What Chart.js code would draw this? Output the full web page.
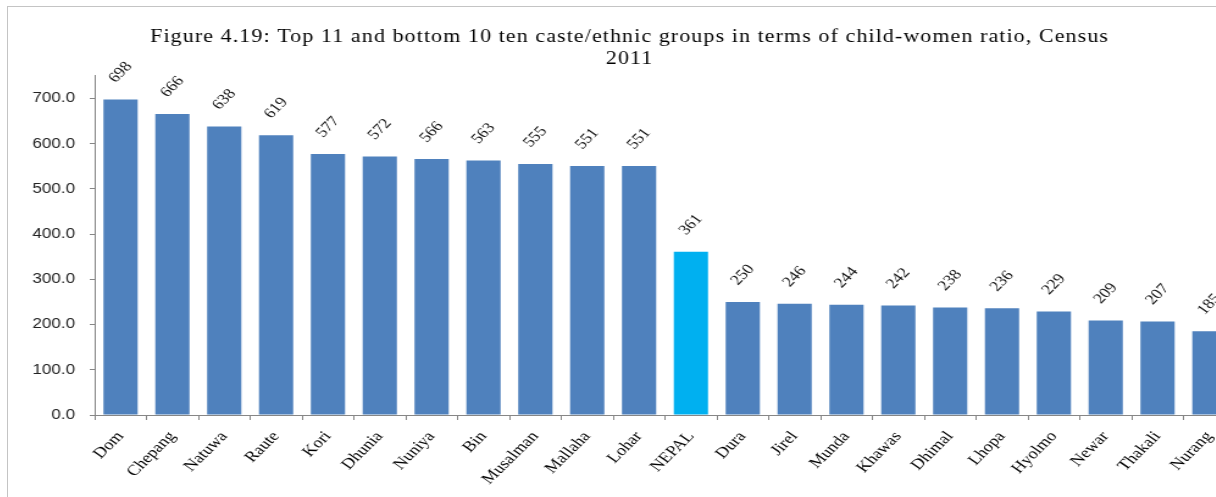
<!DOCTYPE html>
<html>
<head>
<meta charset="utf-8">
<script src="https://cdn.jsdelivr.net/npm/chart.js@4.4.1/dist/chart.umd.min.js"></script>
<style>
  html, body { margin: 0; padding: 0; background: #ffffff; overflow: hidden; width: 1216px; height: 497px; }
  #frame { position: absolute; left: 7px; top: 6px; width: 1262px; height: 530px; border: 1px solid #c4c4c4; overflow: hidden; background: #fff; }
  #stretch { position: absolute; left: 0; top: 0; transform: scaleX(1.22); transform-origin: 0 0; }
</style>
</head>
<body>
<div id="frame"><div id="stretch"><canvas id="c" width="1018" height="519"></canvas></div></div>
<script>
const categories = ['Dom','Chepang','Natuwa','Raute','Kori','Dhunia','Nuniya','Bin','Musalman','Mallaha','Lohar','NEPAL','Dura','Jirel','Munda','Khawas','Dhimal','Lhopa','Hyolmo','Newar','Thakali','Nurang'];
const ratios = [698,666,638,619,577,572,566,563,555,551,551,361,250,246,244,242,238,236,229,209,207,185];
const highlight = 'NEPAL';
const yTicks = [0,100,200,300,400,500,600,700];
const titleLines = ['Figure 4.19: Top 11 and bottom 10 ten caste/ethnic groups in terms of child-women ratio, Census', '2011'];

const barColors = categories.map(c => c === highlight ? '#00b0f0' : '#4f81bd');

const titleSpacing = {
  id: 'titleSpacing',
  beforeDraw(chart) {
    const tb = chart.titleBlock;
    if (tb && !tb._spaced) {
      const orig = tb.draw.bind(tb);
      tb.draw = function () {
        const ctx = this.ctx;
        ctx.save();
        ctx.translate(6.5, 0);
        ctx.letterSpacing = '0.9px';
        orig();
        ctx.restore();
      };
      tb._spaced = true;
    }
  }
};

const barLabels = {
  id: 'barLabels',
  afterDatasetsDraw(chart) {
    const ctx = chart.ctx;
    const meta = chart.getDatasetMeta(0);
    ctx.save();
    ctx.font = '14.5px "Liberation Serif"';
    ctx.fillStyle = '#111';
    ctx.textAlign = 'center';
    ctx.textBaseline = 'middle';
    meta.data.forEach((bar, i) => {
      ctx.save();
      ctx.translate(bar.x, bar.y - 27);
      ctx.rotate(-50 * Math.PI / 180);
      ctx.fillText(String(ratios[i]), 0, 0);
      ctx.restore();
    });
    ctx.restore();
  }
};

new Chart(document.getElementById('c'), {
  type: 'bar',
  data: {
    labels: categories,
    datasets: [{
      data: ratios,
      backgroundColor: barColors,
      borderWidth: 0,
      categoryPercentage: 1.0,
      barPercentage: 0.66
    }]
  },
  options: {
    responsive: false,
    animation: false,
    layout: { padding: { left: 0, right: 12, top: 0, bottom: 0 } },
    plugins: {
      legend: { display: false },
      tooltip: { enabled: false },
      title: {
        display: true,
        text: titleLines,
        color: '#000',
        font: { family: '"Liberation Serif"', size: 18, weight: 'normal', lineHeight: 1.25 },
        padding: { top: 19, bottom: 4 }
      }
    },
    scales: {
      x: {
        grid: { display: true, drawOnChartArea: false, drawTicks: true, tickLength: 5, color: '#868686', offset: true },
        border: { display: true, color: '#868686', width: 1 },
        ticks: {
          autoSkip: false, minRotation: 50, maxRotation: 50, padding: 8,
          color: '#000', font: { family: '"Liberation Serif"', size: 15 }
        },
        afterFit(scale) { scale.height = 111; }
      },
      y: {
        min: 0, max: 752,
        grid: { display: true, drawOnChartArea: false, drawTicks: true, tickLength: 4, color: '#868686' },
        border: { display: true, color: '#868686', width: 1 },
        afterBuildTicks(scale) { scale.ticks = yTicks.map(v => ({ value: v })); },
        ticks: {
          padding: 12, color: '#222',
          font: { family: '"Liberation Sans"', size: 14 },
          callback: v => Number(v).toFixed(1)
        },
        afterFit(scale) { scale.width = 71; }
      }
    }
  },
  plugins: [titleSpacing, barLabels]
});
</script>
</body>
</html>
